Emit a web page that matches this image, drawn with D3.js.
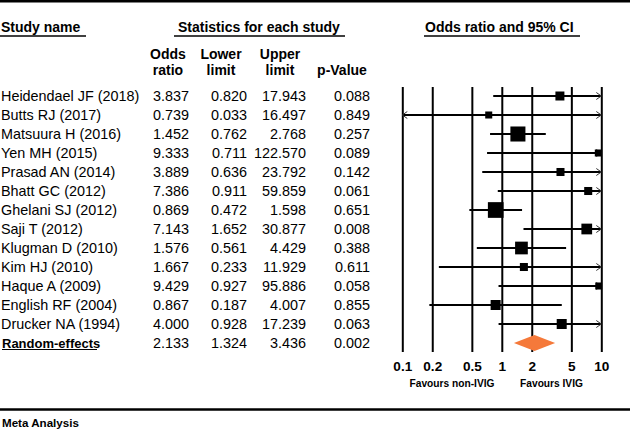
<!DOCTYPE html>
<html>
<head>
<meta charset="utf-8">
<script src="https://cdn.jsdelivr.net/npm/d3@7"></script>
<style>
  html, body { margin: 0; padding: 0; background: #fff; }
  svg { display: block; }
  text { font-family: "Liberation Sans", Arial, sans-serif; fill: #000; }
</style>
</head>
<body>
<svg id="chart" width="630" height="430"></svg>
<script>
// ---------------- DATA ----------------
const studies = [
  "Heidendael JF (2018)", "Butts RJ (2017)", "Matsuura H (2016)", "Yen MH (2015)",
  "Prasad AN (2014)", "Bhatt GC (2012)", "Ghelani SJ (2012)", "Saji T (2012)",
  "Klugman D (2010)", "Kim HJ (2010)", "Haque A (2009)", "English RF (2004)",
  "Drucker NA (1994)"
];
const oddsRatio = [3.837, 0.739, 1.452, 9.333, 3.889, 7.386, 0.869, 7.143, 1.576, 1.667, 9.429, 0.867, 4.000];
const lowerLimit = [0.820, 0.033, 0.762, 0.711, 0.636, 0.911, 0.472, 1.652, 0.561, 0.233, 0.927, 0.187, 0.928];
const upperLimit = [17.943, 16.497, 2.768, 122.570, 23.792, 59.859, 1.598, 30.877, 4.429, 11.929, 95.886, 4.007, 17.239];
const pValue = [0.088, 0.849, 0.257, 0.089, 0.142, 0.061, 0.651, 0.008, 0.388, 0.611, 0.058, 0.855, 0.063];
// relative weights (%), estimated from square areas
const relWeight = [5.9, 3.6, 16.5, 3.6, 4.7, 4.7, 18.0, 8.4, 11.8, 4.7, 3.6, 7.3, 7.3];
const pooled = { name: "Random-effects", or: 2.133, lower: 1.324, upper: 3.436, p: 0.002 };
const tickValues = [0.1, 0.2, 0.5, 1, 2, 5, 10];
const tickLabels = ["0.1", "0.2", "0.5", "1", "2", "5", "10"];

// ---------------- LAYOUT ----------------
const svg = d3.select("#chart");
const fmt = d3.format(".3f");
const x = d3.scaleLog().domain([0.1, 10]).range([402.3, 601.3]);
const rowY = i => 96 + i * 19;
const gridTop = 87, gridBottom = 352;
const sizeScale = d3.scaleSqrt().domain([0, d3.max(relWeight)]).range([0, 15.7]);
const bodySize = "14.4px";

// top and bottom rules
svg.append("line").attr("x1", 0).attr("x2", 630).attr("y1", 1.2).attr("y2", 1.2)
  .attr("stroke", "#000").attr("stroke-width", 2.5);
svg.append("line").attr("x1", 0).attr("x2", 630).attr("y1", 409.5).attr("y2", 409.5)
  .attr("stroke", "#000").attr("stroke-width", 2.5);
svg.append("text").attr("x", 2).attr("y", 427).style("font-size", "11.6px")
  .style("font-weight", "bold").text("Meta Analysis");

// header texts with underlines
function header(txt, xPos, ux1, ux2) {
  svg.append("text").attr("x", xPos).attr("y", 32).style("font-size", "14px")
    .style("font-weight", "bold").text(txt);
  svg.append("line").attr("x1", ux1).attr("x2", ux2).attr("y1", 36).attr("y2", 36)
    .attr("stroke", "#000").attr("stroke-width", 1.3);
}
header("Study name", 1, 0, 86);
header("Statistics for each study", 178, 174, 345);
header("Odds ratio and 95% CI", 425, 424, 580);

// column headers
const colHead = [
  { l1: "Odds", l2: "ratio", cx: 168 },
  { l1: "Lower", l2: "limit", cx: 221 },
  { l1: "Upper", l2: "limit", cx: 280 },
  { l1: "", l2: "p-Value", cx: 342 }
];
colHead.forEach(c => {
  svg.append("text").attr("x", c.cx).attr("y", 59).attr("text-anchor", "middle")
    .style("font-size", "14px").style("font-weight", "bold").text(c.l1);
  svg.append("text").attr("x", c.cx).attr("y", 75).attr("text-anchor", "middle")
    .style("font-size", "14px").style("font-weight", "bold").text(c.l2);
});

// table rows
const colRight = [189, 247, 306, 370];
studies.forEach((s, i) => {
  const y = rowY(i) + 5;
  svg.append("text").attr("x", 1).attr("y", y).style("font-size", bodySize).text(s);
  [oddsRatio[i], lowerLimit[i], upperLimit[i], pValue[i]].forEach((v, j) => {
    svg.append("text").attr("x", colRight[j]).attr("y", y).attr("text-anchor", "end")
      .style("font-size", bodySize).text(fmt(v));
  });
});
// pooled row
{
  const i = studies.length;
  const y = rowY(i) + 4.5;
  svg.append("text").attr("x", 2).attr("y", y).style("font-size", "13px")
    .style("font-weight", "bold").text(pooled.name);
  svg.append("line").attr("x1", 2).attr("x2", 97).attr("y1", y + 2).attr("y2", y + 2)
    .attr("stroke", "#000").attr("stroke-width", 1.2);
  [pooled.or, pooled.lower, pooled.upper, pooled.p].forEach((v, j) => {
    svg.append("text").attr("x", colRight[j]).attr("y", y).attr("text-anchor", "end")
      .style("font-size", bodySize).text(fmt(v));
  });
}

// ---------------- FOREST PLOT ----------------
const axis = d3.axisBottom(x).tickValues(tickValues)
  .tickFormat((d, i) => tickLabels[i])
  .tickSize(-(gridBottom - gridTop)).tickPadding(0);
const gAxis = svg.append("g").attr("transform", `translate(0,${gridBottom})`).call(axis);
gAxis.select(".domain").remove();
gAxis.selectAll(".tick line").attr("stroke", "#000").attr("stroke-width", 2);
gAxis.selectAll(".tick text").attr("y", 18.5).attr("dy", 0)
  .style("font-family", '"Liberation Sans", Arial, sans-serif')
  .style("font-size", "13.6px").style("font-weight", "bold").attr("fill", "#000");

svg.append("text").attr("x", 452).attr("y", 387).attr("text-anchor", "middle")
  .style("font-size", "10.2px").style("font-weight", "bold").text("Favours non-IVIG");
svg.append("text").attr("x", 551.5).attr("y", 387).attr("text-anchor", "middle")
  .style("font-size", "10.2px").style("font-weight", "bold").text("Favours IVIG");

svg.append("clipPath").attr("id", "plotclip").append("rect")
  .attr("x", x(0.1) - 1).attr("y", 0).attr("width", x(10) - x(0.1) + 2).attr("height", 430);

const [dMin, dMax] = x.domain();
const gForest = svg.append("g");
studies.forEach((s, i) => {
  const y = rowY(i);
  const lo = Math.max(lowerLimit[i], dMin), hi = Math.min(upperLimit[i], dMax);
  gForest.append("line").attr("x1", x(lo)).attr("x2", x(hi)).attr("y1", y).attr("y2", y)
    .attr("stroke", "#000").attr("stroke-width", 1.8);
  if (upperLimit[i] > dMax) {
    const t = x(dMax);
    gForest.append("path").attr("d", `M${t - 5},${y - 3.5}L${t},${y}L${t - 5},${y + 3.5}`)
      .attr("fill", "none").attr("stroke", "#333").attr("stroke-width", 1);
  }
  if (lowerLimit[i] < dMin) {
    const t = x(dMin);
    gForest.append("path").attr("d", `M${t + 5},${y - 3.5}L${t},${y}L${t + 5},${y + 3.5}`)
      .attr("fill", "none").attr("stroke", "#333").attr("stroke-width", 1);
  }
  const sz = sizeScale(relWeight[i]);
  gForest.append("rect").attr("clip-path", "url(#plotclip)")
    .attr("x", x(oddsRatio[i]) - sz / 2).attr("y", y - sz / 2)
    .attr("width", sz).attr("height", sz).attr("fill", "#000");
});

// pooled diamond
{
  const y = rowY(studies.length);
  const h = 8;
  svg.append("path")
    .attr("d", `M${x(pooled.lower)},${y}L${x(pooled.or)},${y - h}L${x(pooled.upper)},${y}L${x(pooled.or)},${y + h}Z`)
    .attr("fill", "#f5793a");
}
</script>
</body>
</html>
